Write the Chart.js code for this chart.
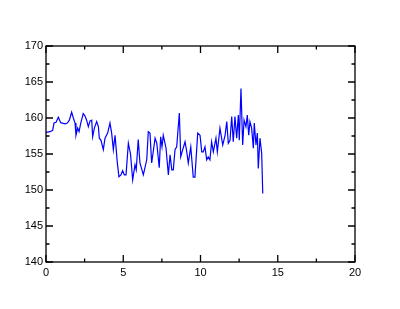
<!DOCTYPE html>
<html>
<head>
<meta charset="utf-8">
<script src="https://cdn.jsdelivr.net/npm/chart.js"></script>
<style>
  html, body { margin: 0; padding: 0; background: #fff; }
  #wrap { width: 400px; height: 309px; position: relative; }
</style>
</head>
<body>
<div id="wrap"><canvas id="chart"></canvas></div>
<script>
// Series
const xValues = [0, 0.26, 0.43, 0.52, 0.65, 0.80, 0.95, 1.23, 1.38, 1.51, 1.66, 1.77, 1.88, 1.94,
  2.05, 2.14, 2.25, 2.41, 2.52, 2.63, 2.74, 2.85, 2.96, 3.02, 3.13, 3.28, 3.39, 3.45, 3.56, 3.71,
  3.82, 3.99, 4.14, 4.25, 4.36, 4.47, 4.61, 4.72, 4.85, 4.96, 5.07, 5.18, 5.33, 5.47, 5.61, 5.76,
  5.84, 5.97, 6.08, 6.30, 6.52, 6.62, 6.73, 6.84, 7.06, 7.17, 7.33, 7.42, 7.51, 7.59, 7.77, 7.92,
  8.03, 8.14, 8.24, 8.35, 8.46, 8.63, 8.72, 8.85, 9.00, 9.11, 9.21, 9.37, 9.53, 9.64, 9.82, 9.97,
  10.08, 10.18, 10.29, 10.40, 10.50, 10.61, 10.72, 10.83, 11.00, 11.09, 11.26, 11.44, 11.59, 11.70,
  11.80, 11.91, 12.02, 12.12, 12.23, 12.34, 12.45, 12.51, 12.62, 12.73, 12.82, 12.94, 13.03, 13.12,
  13.20, 13.31, 13.42, 13.48, 13.59, 13.68, 13.74, 13.85, 13.96, 14.03];
const yValues = [158.0, 158.1, 158.3, 159.3, 159.4, 160.1, 159.35, 159.2, 159.3, 159.7, 160.8, 160.0, 159.3, 157.6,
  158.6, 158.1, 159.3, 160.6, 160.3, 159.7, 158.8, 159.6, 159.7, 157.4, 158.6, 159.5, 158.8, 157.2, 156.9, 155.6,
  157.2, 157.9, 159.3, 157.9, 155.6, 157.6, 153.9, 151.85, 152.1, 152.7, 152.1, 152.1, 156.5, 155.0, 151.4, 153.5,
  152.8, 157.0, 153.75, 152.1, 154.2, 158.1, 157.9, 153.75, 157.2, 156.5, 153.1, 157.4, 156.0, 157.6, 155.8, 152.1,
  154.9, 152.8, 152.8, 155.6, 156.0, 160.7, 154.6, 155.6, 156.7, 155.3, 153.75, 156.0, 151.8, 151.8, 157.9, 157.6,
  155.3, 155.3, 156.0, 154.2, 154.6, 154.2, 156.7, 155.3, 157.2, 155.3, 158.6, 156.25, 157.6, 159.5,
  156.5, 156.9, 160.2, 156.7, 160.2, 157.2, 160.4, 156.9, 164.1, 156.25, 159.7, 158.8, 160.4, 157.6,
  159.5, 158.6, 155.8, 159.3, 156.25, 157.9, 153.0, 157.2, 155.1, 149.5];

const xTicks = [0, 5, 10, 15, 20];
const yTicks = [140, 145, 150, 155, 160, 165, 170];
const xMinor = [2.5, 7.5, 12.5, 17.5];
const yMinor = [142.5, 147.5, 152.5, 157.5, 162.5, 167.5];

const points = xValues.map((x, i) => ({ x: x, y: yValues[i] }));

// Frame with inward ticks on all four sides
const framePlugin = {
  id: 'frame',
  afterDraw(chart) {
    const ctx = chart.ctx;
    const a = chart.chartArea;
    const xs = chart.scales.x, ys = chart.scales.y;
    const major = 7, minor = 3.5;
    ctx.save();
    ctx.strokeStyle = '#000';
    ctx.lineWidth = 1.3;
    ctx.strokeRect(a.left, a.top, a.right - a.left, a.bottom - a.top);
    ctx.beginPath();
    const xTick = (v, len) => {
      const p = xs.getPixelForValue(v);
      ctx.moveTo(p, a.bottom); ctx.lineTo(p, a.bottom - len);
      ctx.moveTo(p, a.top); ctx.lineTo(p, a.top + len);
    };
    const yTick = (v, len) => {
      const p = ys.getPixelForValue(v);
      ctx.moveTo(a.left, p); ctx.lineTo(a.left + len, p);
      ctx.moveTo(a.right, p); ctx.lineTo(a.right - len, p);
    };
    xTicks.forEach(v => xTick(v, major));
    xMinor.forEach(v => xTick(v, minor));
    yTicks.forEach(v => yTick(v, major));
    yMinor.forEach(v => yTick(v, minor));
    ctx.stroke();
    ctx.restore();
  }
};

new Chart(document.getElementById('chart'), {
  type: 'line',
  data: {
    datasets: [{
      data: points,
      borderColor: '#0000ff',
      borderWidth: 1.2,
      pointRadius: 0,
      fill: false,
      tension: 0
    }]
  },
  options: {
    responsive: true,
    maintainAspectRatio: false,
    animation: false,
    layout: { padding: { left: 0, right: 45, top: 46, bottom: 0 } },
    plugins: { legend: { display: false }, tooltip: { enabled: false } },
    scales: {
      x: {
        type: 'linear',
        min: 0, max: 20,
        afterFit: s => { s.height = 47; },
        afterBuildTicks: s => { s.ticks = xTicks.map(v => ({ value: v })); },
        grid: { display: false, drawTicks: false },
        border: { display: false },
        ticks: { color: '#000', padding: 4, maxRotation: 0, font: { family: '"Liberation Sans", Arial, sans-serif', size: 11 } }
      },
      y: {
        min: 140, max: 170,
        afterFit: s => { s.width = 46; },
        afterBuildTicks: s => { s.ticks = yTicks.map(v => ({ value: v })); },
        grid: { display: false, drawTicks: false },
        border: { display: false },
        ticks: { color: '#000', padding: 3, font: { family: '"Liberation Sans", Arial, sans-serif', size: 11 } }
      }
    }
  },
  plugins: [framePlugin]
});
</script>
</body>
</html>
